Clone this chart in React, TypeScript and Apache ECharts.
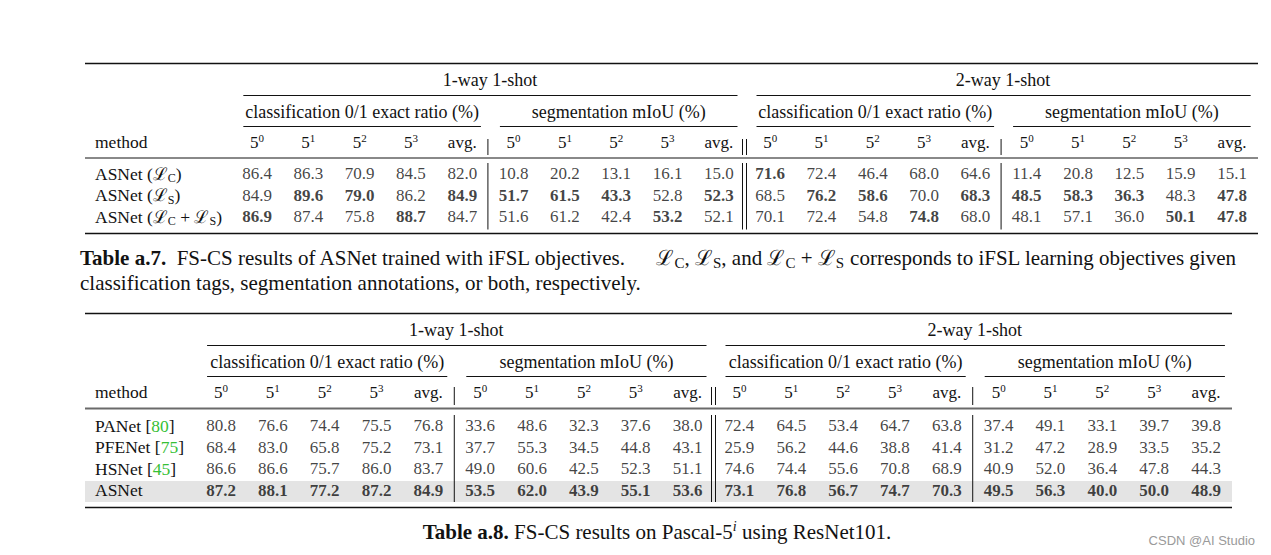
import React, { useEffect, useRef } from "react";
import * as echarts from "echarts";

const W = 1271;
const H = 555;
const FONT = '"Liberation Serif", "DejaVu Serif", "Times New Roman", serif';
const INK = "#121212";
const GREEN = "#35c035";

// ---------- data ----------
const groupTitles = ["1-way 1-shot", "2-way 1-shot"];
const subTitles = [
  "classification 0/1 exact ratio (%)",
  "segmentation mIoU (%)",
  "classification 0/1 exact ratio (%)",
  "segmentation mIoU (%)",
];
const colHeaders = ["5^0", "5^1", "5^2", "5^3", "avg."];
const methodHeader = "method";

const methodsA7 = ["ASNet (ℒ_C)", "ASNet (ℒ_S)", "ASNet (ℒ_C + ℒ_S)"];
const valuesA7 = [
  [86.4, 86.3, 70.9, 84.5, 82.0, 10.8, 20.2, 13.1, 16.1, 15.0, 71.6, 72.4, 46.4, 68.0, 64.6, 11.4, 20.8, 12.5, 15.9, 15.1],
  [84.9, 89.6, 79.0, 86.2, 84.9, 51.7, 61.5, 43.3, 52.8, 52.3, 68.5, 76.2, 58.6, 70.0, 68.3, 48.5, 58.3, 36.3, 48.3, 47.8],
  [86.9, 87.4, 75.8, 88.7, 84.7, 51.6, 61.2, 42.4, 53.2, 52.1, 70.1, 72.4, 54.8, 74.8, 68.0, 48.1, 57.1, 36.0, 50.1, 47.8],
];
const boldA7 = [
  [10],
  [1, 2, 4, 5, 6, 7, 9, 11, 12, 14, 15, 16, 17, 19],
  [0, 3, 8, 13, 18, 19],
];

const methodsA8 = ["PANet", "PFENet", "HSNet", "ASNet"];
const refsA8 = ["80", "75", "45", ""];
const valuesA8 = [
  [80.8, 76.6, 74.4, 75.5, 76.8, 33.6, 48.6, 32.3, 37.6, 38.0, 72.4, 64.5, 53.4, 64.7, 63.8, 37.4, 49.1, 33.1, 39.7, 39.8],
  [68.4, 83.0, 65.8, 75.2, 73.1, 37.7, 55.3, 34.5, 44.8, 43.1, 25.9, 56.2, 44.6, 38.8, 41.4, 31.2, 47.2, 28.9, 33.5, 35.2],
  [86.6, 86.6, 75.7, 86.0, 83.7, 49.0, 60.6, 42.5, 52.3, 51.1, 74.6, 74.4, 55.6, 70.8, 68.9, 40.9, 52.0, 36.4, 47.8, 44.3],
  [87.2, 88.1, 77.2, 87.2, 84.9, 53.5, 62.0, 43.9, 55.1, 53.6, 73.1, 76.8, 56.7, 74.7, 70.3, 49.5, 56.3, 40.0, 50.0, 48.9],
];
const boldA8 = [
  [],
  [],
  [],
  [0, 1, 2, 3, 4, 5, 6, 7, 8, 9, 10, 11, 12, 13, 14, 15, 16, 17, 18, 19],
];

const captionA7Left = "FS-CS results of ASNet trained with iFSL objectives.";
const captionA7Right = "ℒ_C, ℒ_S, and ℒ_C + ℒ_S corresponds to iFSL learning objectives given";
const captionA7Line2 = "classification tags, segmentation annotations, or both, respectively.";
const captionA8 = "FS-CS results on Pascal-5^i using ResNet101.";
const watermark = "CSDN @AI Studio";

// ---------- layout ----------
const subSpans = [[0, 4], [5, 9], [10, 14], [15, 19]];
const groupSpans = [[0, 9], [10, 19]];
const CELL = 17;
const HEAD = 18;
const CAP = 21;

const L7 = {
  colFirst: 257, colLast: 1232, rowFirst: 173.5, rowStep: 21.7, methodX: 95,
  x0: 85, x1: 1258, topRule: 63.5, groupY: 80, cmid1: 95.5, subY: 111.5, cmid2: 126.5,
  headY: 142, midRule: 158, midColor: INK, midW: 1, bottomRule: 233.5,
  sepHead: [139, 155], sepData: [163, 229.5],
};
const L8 = {
  colFirst: 221, colLast: 1206, rowFirst: 425.5, rowStep: 21.5, methodX: 95,
  x0: 85, x1: 1232, topRule: 313.5, groupY: 330, cmid1: 345.5, subY: 361.5, cmid2: 376.5,
  headY: 392, midRule: 408.5, midColor: "#6a6a6a", midW: 2, bottomRule: 507.5,
  sepHead: [387, 405], sepData: [415, 502], band: [481, 502],
};

function rich(size: number) {
  const mk = (o: any) => ({ ...o, fontFamily: FONT, color: o.color || INK, fill: o.color || INK });
  const lh = Math.round(size * 1.2);
  return {
    t: mk({ fontSize: size, lineHeight: lh }),
    b: mk({ fontSize: size, lineHeight: lh, fontWeight: "bold" }),
    s: mk({ fontSize: Math.round(size * 0.7), lineHeight: Math.round(size * 0.7), verticalAlign: "bottom" }),
    p: mk({ fontSize: Math.round(size * 0.66), lineHeight: Math.round(size * 0.66), verticalAlign: "top" }),
    pi: mk({ fontSize: Math.round(size * 0.66), lineHeight: Math.round(size * 0.66), verticalAlign: "top", fontStyle: "italic" }),
    g: mk({ fontSize: size, lineHeight: lh, color: GREEN }),
  };
}

function markup(s: string): string {
  // "_X" -> subscript, "^X" -> superscript
  const out: string[] = [];
  const re = /([_^])([A-Za-z0-9])/g;
  let last = 0;
  let m: RegExpExecArray | null;
  while ((m = re.exec(s))) {
    if (m.index > last) out.push(`{t|${s.slice(last, m.index)}}`);
    if (m[1] === "_") out.push(`{s|${m[2]}}`);
    else out.push(/[a-z]/.test(m[2]) ? `{pi|${m[2]}}` : `{p|${m[2]}}`);
    last = m.index + m[0].length;
  }
  if (last < s.length) out.push(`{t|${s.slice(last)}}`);
  return out.join("");
}

function buildTable(idx: number, L: any, methodLabels: string[], values: number[][], bold: number[][]) {
  const nCols = values[0].length;
  const bandW = (L.colLast - L.colFirst) / (nCols - 1);
  const gridLeft = L.colFirst - bandW / 2;
  const gridTop = L.rowFirst - L.rowStep / 2;
  const bnd = (k: number) => gridLeft + k * bandW;
  const colKeys = values[0].map((_, i) => "c" + i);

  const grid = {
    left: gridLeft, top: gridTop, width: bandW * nCols, height: L.rowStep * values.length,
    outerBoundsMode: "none", containLabel: false,
  };
  const xAxis = {
    type: "category", gridIndex: idx, position: "top", data: colKeys,
    axisLine: { show: false }, axisTick: { show: false }, splitLine: { show: false },
    axisLabel: {
      interval: 0, margin: gridTop - L.headY, verticalAlign: "middle",
      formatter: (_: string, i: number) => markup(colHeaders[i % colHeaders.length]),
      rich: rich(CELL),
    },
  };
  const yAxis = {
    type: "category", gridIndex: idx, inverse: true, data: methodLabels.map((_, i) => "r" + i),
    axisLine: { show: false }, axisTick: { show: false }, splitLine: { show: false },
    axisLabel: {
      interval: 0, margin: gridLeft - L.methodX, align: "left", verticalAlign: "middle",
      formatter: (_: string, i: number) => methodLabels[i],
      rich: rich(17.5),
    },
  };
  const data: any[] = [];
  values.forEach((row, r) =>
    row.forEach((v, c) => {
      const isBold = bold[r].includes(c);
      data.push({ value: [c, r], name: v.toFixed(1), label: { fontWeight: isBold ? "bold" : "normal" } });
    })
  );
  const series = {
    type: "scatter", xAxisIndex: idx, yAxisIndex: idx, symbolSize: 1,
    itemStyle: { color: "rgba(0,0,0,0)" }, silent: true, z: 5,
    label: { show: true, position: "inside", formatter: "{b}", fontSize: CELL, fontFamily: FONT, color: INK },
    data,
  };

  const g: any[] = [];
  const hline = (x1: number, x2: number, y: number, w: number, color = INK) =>
    g.push({ type: "line", shape: { x1, y1: y, x2, y2: y }, style: { stroke: color, lineWidth: w } });
  const vline = (x: number, y1: number, y2: number) =>
    g.push({ type: "line", shape: { x1: x, y1, x2: x, y2 }, style: { stroke: INK, lineWidth: 1 } });
  const text = (x: number, y: number, t: string, size: number, align = "center") =>
    g.push({
      type: "text", x, y,
      style: { text: t, fontFamily: FONT, fontSize: size, fill: INK, align, verticalAlign: "middle" },
    });

  if (L.band) {
    g.push({
      type: "rect", z: -1,
      shape: { x: L.x0, y: L.band[0], width: L.x1 - L.x0, height: L.band[1] - L.band[0] },
      style: { fill: "#e4e4e4" },
    });
  }
  hline(L.x0, L.x1, L.topRule, 1.6);
  hline(L.x0, L.x1, L.midRule, L.midW, L.midColor);
  hline(L.x0, L.x1, L.bottomRule, 1.6);
  groupSpans.forEach(([a, b], i) => {
    hline(bnd(a) + 12, bnd(b + 1) - 7, L.cmid1, 1);
    text((bnd(a) + bnd(b + 1)) / 2 + 2, L.groupY, groupTitles[i], HEAD);
  });
  subSpans.forEach(([a, b], i) => {
    hline(bnd(a) + 12, bnd(b + 1) - 7, L.cmid2, 1);
    text((bnd(a) + 12 + bnd(b + 1) - 7) / 2, L.subY, subTitles[i], HEAD);
  });
  text(L.methodX, L.headY, methodHeader, 17.5, "left");
  [5, 15].forEach((k) => {
    vline(bnd(k), L.sepHead[0], L.sepHead[1]);
    vline(bnd(k), L.sepData[0], L.sepData[1]);
  });
  [-2, 2].forEach((d) => {
    vline(bnd(10) + d, L.sepHead[0], L.sepHead[1]);
    vline(bnd(10) + d, L.sepData[0], L.sepData[1]);
  });
  return { grid, xAxis, yAxis, series, graphics: g };
}

function buildOption() {
  const m7 = methodsA7.map(markup);
  const m8 = methodsA8.map((m, i) => (refsA8[i] ? `{t|${m} [}{g|${refsA8[i]}}{t|]}` : `{t|${m}}`));
  const t7 = buildTable(0, L7, m7, valuesA7, boldA7);
  const t8 = buildTable(1, L8, m8, valuesA8, boldA8);

  const capRich = rich(CAP);
  const capStyle = (t: string, align: string) => ({
    text: t, fontFamily: FONT, fontSize: CAP, fill: INK, align, verticalAlign: "middle", rich: capRich,
  });
  const captions: any[] = [
    { type: "text", x: 80, y: 258, style: capStyle(`{b|Table a.7.}{t|  ${captionA7Left}}`, "left") },
    { type: "text", x: 1236, y: 258, style: capStyle(markup(captionA7Right), "right") },
    { type: "text", x: 80, y: 283, style: capStyle(`{t|${captionA7Line2}}`, "left") },
    { type: "text", x: 657, y: 532, style: capStyle(`{b|Table a.8.}${markup(" " + captionA8)}`, "center") },
    {
      type: "text", x: 1255, y: 540,
      style: { text: watermark, fontFamily: '"Liberation Sans", Arial, sans-serif', fontSize: 13, fill: "#9a9a9a", align: "right", verticalAlign: "middle" },
    },
  ];

  return {
    animation: false,
    backgroundColor: "#ffffff",
    textStyle: { fontFamily: FONT },
    tooltip: { show: false },
    grid: [t7.grid, t8.grid],
    xAxis: [t7.xAxis, t8.xAxis],
    yAxis: [t7.yAxis, t8.yAxis],
    series: [t7.series, t8.series],
    graphic: { elements: [...t7.graphics, ...t8.graphics, ...captions] },
  };
}

export default function App() {
  const ref = useRef<HTMLDivElement>(null);
  useEffect(() => {
    const el = ref.current!;
    const chart = echarts.init(el, null, { renderer: "svg", width: W, height: H });
    chart.setOption(buildOption() as any);
    return () => chart.dispose();
  }, []);
  return (
    <div
      ref={ref}
      style={{ position: "absolute", left: 0, top: 0, width: W, height: H, background: "#fff" }}
    />
  );
}
